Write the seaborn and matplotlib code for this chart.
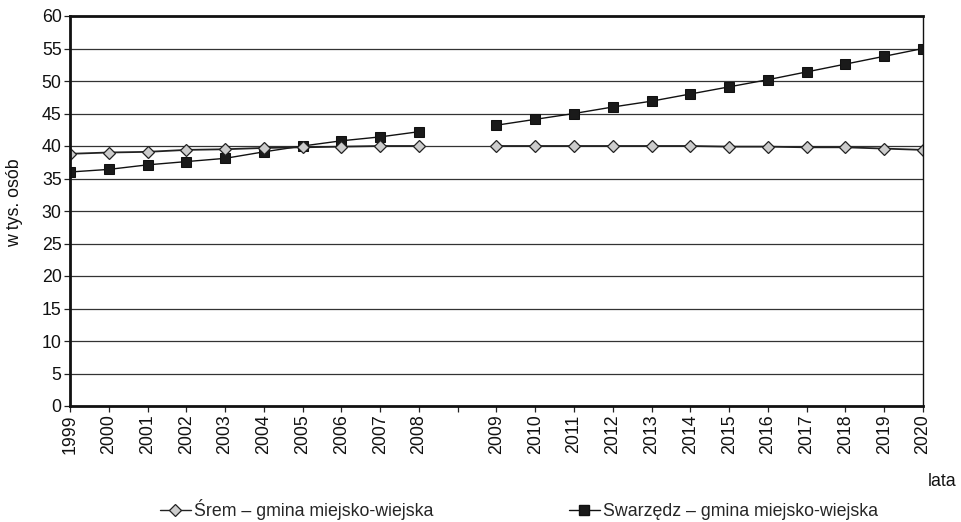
import numpy as np
import pandas as pd
import matplotlib
matplotlib.use("Agg")
import matplotlib.pyplot as plt
import seaborn as sns
from matplotlib.lines import Line2D

years = [1999, 2000, 2001, 2002, 2003, 2004, 2005, 2006, 2007, 2008,
         2009, 2010, 2011, 2012, 2013, 2014, 2015, 2016, 2017, 2018, 2019, 2020]
srem = [38.8, 39.0, 39.1, 39.4, 39.5, 39.7, 39.8, 39.9, 40.0, 40.0,
        40.0, 40.0, 40.0, 40.0, 40.0, 40.0, 39.9, 39.9, 39.8, 39.8, 39.6, 39.4]
swarzedz = [36.0, 36.4, 37.1, 37.6, 38.1, 39.1, 40.0, 40.8, 41.4, 42.2,
            43.2, 44.1, 45.0, 46.0, 46.9, 48.0, 49.1, 50.2, 51.4, 52.6, 53.8, 55.0]
tick_labels = ["1999", "2000", "2001", "2002", "2003", "2004", "2005", "2006", "2007", "2008", "",
               "2009", "2010", "2011", "2012", "2013", "2014", "2015", "2016", "2017", "2018", "2019", "2020"]
series_names = ["Śrem – gmina miejsko-wiejska", "Swarzędz – gmina miejsko-wiejska"]

sns.set_theme(style="white")
plt.rcParams['font.family'] = ['Liberation Sans', 'DejaVu Sans']
FS = 12.8

# categorical positions: an empty slot between 2008 and 2009
pos = [i if y <= 2008 else i + 1 for i, y in enumerate(years)]
seg = [0 if y <= 2008 else 1 for y in years]

df = pd.DataFrame({"pos": pos, "seg": seg, "srem": srem, "swarzedz": swarzedz})

fig = plt.figure(figsize=(9.61, 5.22), dpi=100)
ax = fig.add_axes([70/961, 1-406/522, (923-70)/961, (406-16)/522])

for yv in range(5, 60, 5):
    ax.axhline(yv, color="#333333", lw=0.9, zorder=1)

sns.lineplot(data=df, x="pos", y="swarzedz", units="seg", estimator=None, ax=ax,
             color="#111111", lw=1.0, marker="s", markersize=7.5,
             markerfacecolor="#1a1a1a", markeredgecolor="#111111", zorder=3)
sns.lineplot(data=df, x="pos", y="srem", units="seg", estimator=None, ax=ax,
             color="#222222", lw=1.3, marker="D", markersize=6.5,
             markerfacecolor="#cccccc", markeredgecolor="#222222", markeredgewidth=0.9, zorder=4)

ax.set_xlim(0, 22)
ax.set_ylim(0, 60)
ax.set_xticks(range(23))
ax.set_xticklabels(tick_labels, rotation=90, fontsize=FS)
ax.set_yticks(range(0, 61, 5))
ax.set_yticklabels([str(v) for v in range(0, 61, 5)], fontsize=FS)
ax.tick_params(axis="both", direction="out", length=4, width=0.9, color="#222222",
               bottom=True, left=True, pad=2, labelcolor="#111111")
ax.set_xlabel("")
ax.set_ylabel("")
for s in ["left", "bottom", "top"]:
    ax.spines[s].set_linewidth(2.0)
    ax.spines[s].set_color("#111111")
ax.spines["right"].set_linewidth(1.0)
ax.spines["right"].set_color("#111111")
for sp in ax.spines.values():
    sp.set_zorder(5)

fig.text(15/961, 1-203/522, "w tys. osób", rotation=90, ha="center", va="center", fontsize=FS, color="#111111")
fig.text(942/961, 1-482/522, "lata", ha="center", va="center", fontsize=FS, color="#111111")

handles = [
    Line2D([], [], color="#222222", lw=1.0, marker="D", markersize=6, markerfacecolor="#cccccc",
           markeredgecolor="#222222", markeredgewidth=0.9),
    Line2D([], [], color="#111111", lw=1.0, marker="s", markersize=7, markerfacecolor="#1a1a1a",
           markeredgecolor="#111111"),
]
fig.legend(handles, series_names, loc="center", bbox_to_anchor=(519/961, 1-510/522), ncol=2,
           frameon=False, fontsize=FS, handlelength=1.75, handletextpad=0.2, columnspacing=7.6)

fig.savefig("out.png", dpi=100)
